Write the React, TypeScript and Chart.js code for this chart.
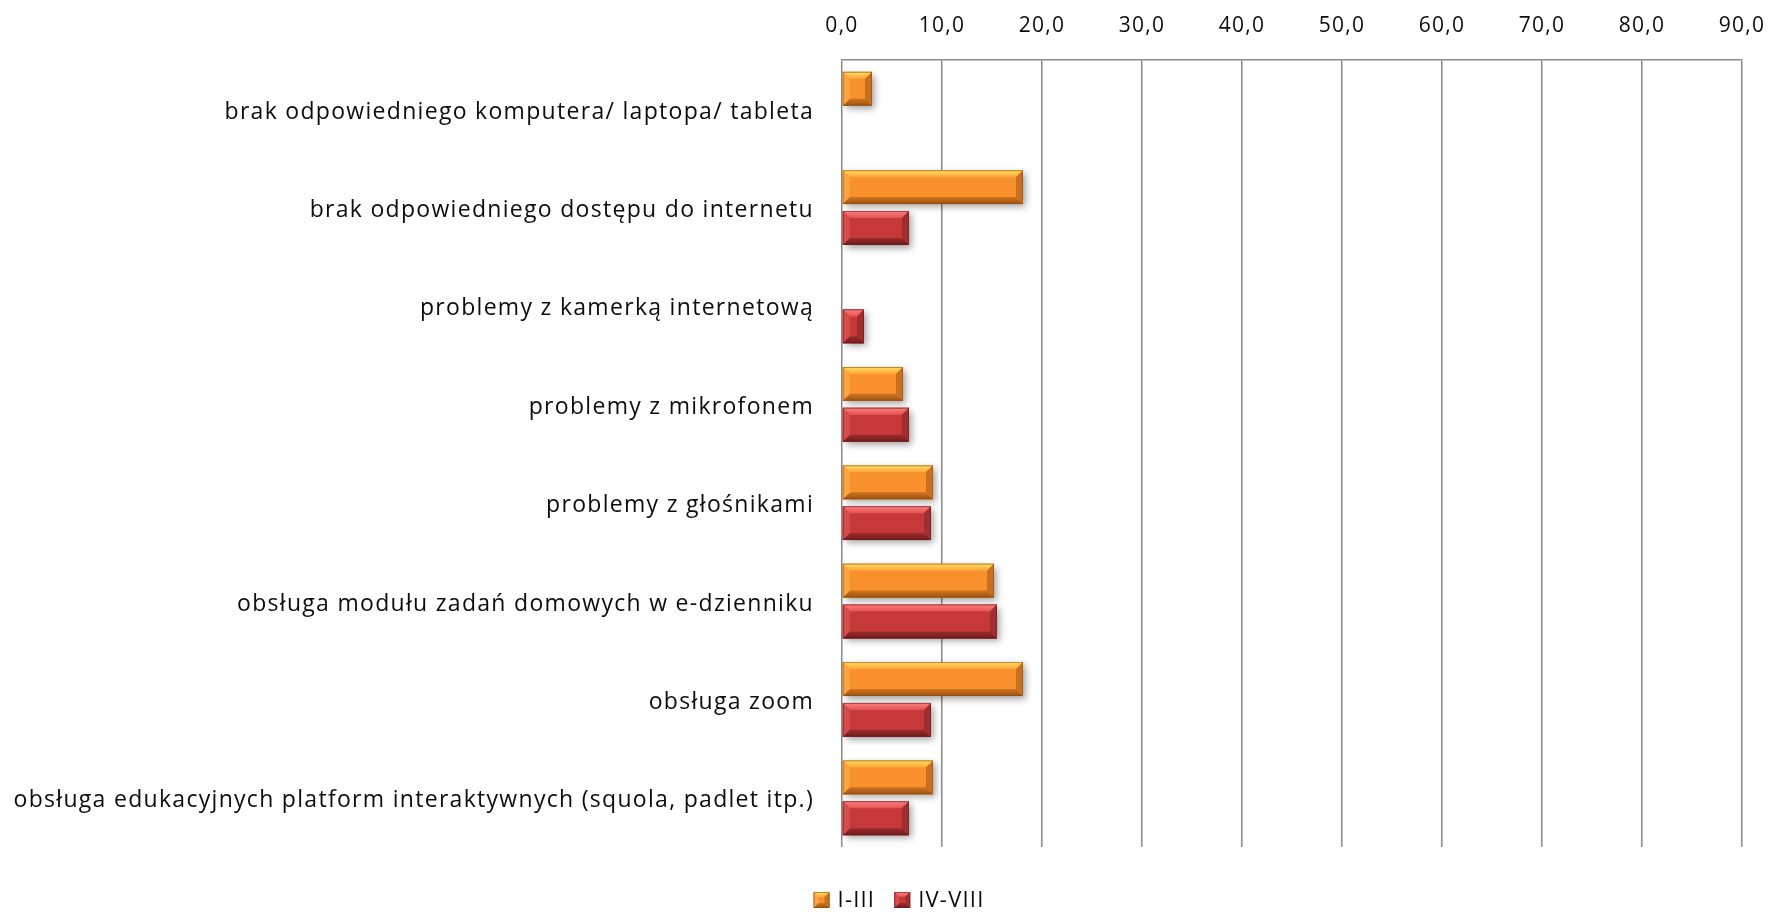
import React, { useEffect, useRef } from "react";
import { Chart, registerables } from "chart.js";

Chart.register(...registerables);

const categories = [
  "brak odpowiedniego komputera/ laptopa/ tableta",
  "brak odpowiedniego dostępu do internetu",
  "problemy z kamerką internetową",
  "problemy z mikrofonem",
  "problemy z głośnikami",
  "obsługa modułu zadań domowych w e-dzienniku",
  "obsługa zoom",
  "obsługa edukacyjnych platform interaktywnych (squola, padlet itp.)",
];
const seriesNames = ["I-III", "IV-VIII"];
const valuesI_III = [3.0, 18.1, 0, 6.1, 9.1, 15.2, 18.1, 9.1];
const valuesIV_VIII = [0, 6.7, 2.2, 6.7, 8.9, 15.5, 8.9, 6.7];
const axisMin = 0;
const axisMax = 90;
const axisStep = 10;

const FONT = "'Open Sans', sans-serif";
const LABEL_SIZE = 23;
const TICK_SIZE = 21;
const LEGEND_SIZE = 22;
const LETTER_SPACING = "1.3px";
const TEXT_COLOR = "#0d0d0d";

type Pal = {
  face: string;
  top: [string, string];
  bottom: [string, string];
  left: string;
  right: string;
  edge: string;
};
const palettes: Pal[] = [
  {
    face: "#F8902B",
    top: ["#FFE060", "#FFA43A"],
    bottom: ["#D07320", "#9A5312"],
    left: "#FBA444",
    right: "#C8701F",
    edge: "#8E4E14",
  },
  {
    face: "#C73838",
    top: ["#FF8080", "#E35252"],
    bottom: ["#9C2C2C", "#6E1C1C"],
    left: "#D44C4C",
    right: "#A02E2E",
    edge: "#6A1B1B",
  },
];

function drawBevel(ctx: CanvasRenderingContext2D, L: number, T: number, R: number, B: number, pal: Pal, bv: number, shadow: boolean) {
  const w = R - L;
  const h = B - T;
  const b = Math.min(bv, w / 2, h / 2);
  ctx.save();
  if (shadow) {
    ctx.shadowColor = "rgba(0,0,0,0.38)";
    ctx.shadowBlur = 7;
    ctx.shadowOffsetX = 3;
    ctx.shadowOffsetY = 3;
  }
  ctx.fillStyle = pal.face;
  ctx.fillRect(L, T, w, h);
  ctx.restore();
  ctx.save();
  let g = ctx.createLinearGradient(0, T, 0, T + b);
  g.addColorStop(0, pal.top[0]);
  g.addColorStop(1, pal.top[1]);
  ctx.fillStyle = g;
  ctx.beginPath();
  ctx.moveTo(L, T);
  ctx.lineTo(R, T);
  ctx.lineTo(R - b, T + b);
  ctx.lineTo(L + b, T + b);
  ctx.closePath();
  ctx.fill();
  g = ctx.createLinearGradient(0, B - b, 0, B);
  g.addColorStop(0, pal.bottom[0]);
  g.addColorStop(1, pal.bottom[1]);
  ctx.fillStyle = g;
  ctx.beginPath();
  ctx.moveTo(L, B);
  ctx.lineTo(R, B);
  ctx.lineTo(R - b, B - b);
  ctx.lineTo(L + b, B - b);
  ctx.closePath();
  ctx.fill();
  ctx.fillStyle = pal.left;
  ctx.beginPath();
  ctx.moveTo(L, T);
  ctx.lineTo(L + b, T + b);
  ctx.lineTo(L + b, B - b);
  ctx.lineTo(L, B);
  ctx.closePath();
  ctx.fill();
  ctx.fillStyle = pal.right;
  ctx.beginPath();
  ctx.moveTo(R, T);
  ctx.lineTo(R - b, T + b);
  ctx.lineTo(R - b, B - b);
  ctx.lineTo(R, B);
  ctx.closePath();
  ctx.fill();
  ctx.strokeStyle = pal.edge;
  ctx.lineWidth = 1;
  ctx.globalAlpha = 0.6;
  ctx.strokeRect(L + 0.5, T + 0.5, w - 1, h - 1);
  ctx.restore();
}

const spacingPlugin = {
  id: "letterSpacing",
  beforeLayout(chart: any) {
    (chart.ctx as any).letterSpacing = LETTER_SPACING;
  },
  beforeDraw(chart: any) {
    (chart.ctx as any).letterSpacing = LETTER_SPACING;
  },
};

const bevelPlugin = {
  id: "bevelBars",
  afterDatasetsDraw(chart: any) {
    const ctx = chart.ctx as CanvasRenderingContext2D;
    chart.data.datasets.forEach((_ds: any, di: number) => {
      const meta = chart.getDatasetMeta(di);
      if (meta.hidden) return;
      meta.data.forEach((el: any) => {
        const p = el.getProps(["x", "y", "base", "height"], true);
        const L = Math.min(p.base, p.x);
        const R = Math.max(p.base, p.x);
        if (R - L < 0.5) return;
        const T = p.y - p.height / 2;
        const B = p.y + p.height / 2;
        drawBevel(ctx, L, T, R, B, palettes[di], 7, true);
      });
    });
  },
};

const legendPlugin = {
  id: "customLegend",
  afterDraw(chart: any) {
    const ctx = chart.ctx as CanvasRenderingContext2D;
    ctx.save();
    (ctx as any).letterSpacing = "1.2px";
    ctx.font = `${LEGEND_SIZE}px ${FONT}`;
    ctx.textBaseline = "middle";
    ctx.fillStyle = TEXT_COLOR;
    const box = 16;
    const gapText = 8;
    const gapItem = 19;
    const widths = seriesNames.map((n) => box + gapText + ctx.measureText(n).width);
    const total = widths.reduce((a, b) => a + b, 0) + gapItem * (seriesNames.length - 1);
    let x = chart.width * 0.5085 - total / 2;
    const cy = 900;
    seriesNames.forEach((n, i) => {
      drawBevel(ctx, x, cy - box / 2, x + box, cy + box / 2, palettes[i], 5, false);
      ctx.fillStyle = TEXT_COLOR;
      ctx.fillText(n, x + box + gapText, cy + 1);
      x += widths[i] + gapItem;
    });
    ctx.restore();
  },
};

export default function App() {
  const ref = useRef<HTMLCanvasElement | null>(null);
  useEffect(() => {
    document.body.style.margin = "0";
    const canvas = ref.current;
    if (!canvas) return;
    const chart = new Chart(canvas, {
      type: "bar",
      data: {
        labels: categories,
        datasets: [
          { label: seriesNames[0], data: valuesI_III, backgroundColor: palettes[0].face, borderWidth: 0 },
          { label: seriesNames[1], data: valuesIV_VIII, backgroundColor: palettes[1].face, borderWidth: 0 },
        ],
      },
      options: {
        indexAxis: "y",
        responsive: false,
        animation: false,
        maintainAspectRatio: false,
        categoryPercentage: 0.83,
        barPercentage: 0.83,
        layout: { padding: { top: 0, left: 0, right: 0, bottom: 65 } },
        plugins: {
          legend: { display: false },
          tooltip: { enabled: false },
        },
        scales: {
          x: {
            position: "top",
            min: axisMin,
            max: axisMax,
            ticks: {
              stepSize: axisStep,
              padding: 21,
              color: TEXT_COLOR,
              font: { family: FONT, size: TICK_SIZE },
              callback: (v: any) => Number(v).toFixed(1).replace(".", ","),
            },
            grid: { color: "#8a8a8a", lineWidth: 1.5, drawTicks: false },
            border: { display: true, color: "#8a8a8a", width: 1.5 },
            afterFit: (s: any) => {
              s.height = 60;
              s.paddingLeft = 0;
              s.paddingRight = 26;
            },
          },
          y: {
            ticks: {
              padding: 28,
              labelOffset: 3,
              color: TEXT_COLOR,
              font: { family: FONT, size: LABEL_SIZE },
            },
            grid: { display: false, drawTicks: false },
            border: { display: false },
            afterFit: (s: any) => {
              s.width = 842;
              s.paddingTop = 0;
              s.paddingBottom = 0;
            },
          },
        },
      },
      plugins: [spacingPlugin, bevelPlugin, legendPlugin],
    });
    return () => chart.destroy();
  }, []);
  return (
    <div style={{ width: 1768, height: 912 }}>
      <canvas ref={ref} width={1768} height={912} style={{ display: "block" }} />
    </div>
  );
}
